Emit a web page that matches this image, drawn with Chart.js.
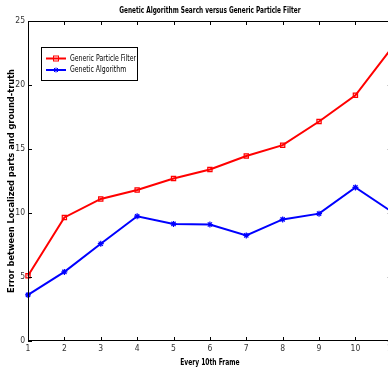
<!DOCTYPE html>
<html>
<head>
<meta charset="utf-8">
<script src="https://cdn.jsdelivr.net/npm/chart.js@4/dist/chart.umd.min.js"></script>
<style>
html,body{margin:0;padding:0;background:#fff;overflow:hidden;width:388px;height:370px;}
#wrap{width:388px;height:370px;overflow:hidden;position:relative;}
canvas{display:block;}
</style>
</head>
<body>
<div id="wrap"><canvas id="c" width="397" height="370"></canvas></div>
<script>
const frames = ['1','2','3','4','5','6','7','8','9','10','11'];
const particleFilter = [5.1, 9.65, 11.1, 11.8, 12.7, 13.4, 14.45, 15.3, 17.15, 19.2, 22.9];
const geneticAlgorithm = [3.6, 5.4, 7.6, 9.75, 9.15, 9.1, 8.25, 9.5, 9.95, 12.0, 10.1];
const yTicks = [0, 5, 10, 15, 20, 25];
const chartTitle = 'Genetic Algorithm Search versus Generic Particle Filter';
const xTitle = 'Every 10th Frame';
const yTitle = 'Error between Localized parts and ground-truth';

const FONT = "'Liberation Sans Narrow', 'Arial Narrow', 'DejaVu Sans Condensed', 'Liberation Sans', Arial, sans-serif";

function narrowText(ctx, text, x, y, font, sx, align) {
  ctx.save();
  ctx.font = font;
  ctx.textAlign = align;
  ctx.textBaseline = 'middle';
  ctx.translate(x, y);
  ctx.scale(sx, 1);
  ctx.fillText(text, 0, 0);
  ctx.restore();
}

const framePlugin = {
  id: 'frame',
  afterDraw(chart) {
    const {ctx, chartArea: a, scales} = chart;
    ctx.save();
    ctx.strokeStyle = '#000';
    ctx.lineWidth = 1;
    ctx.strokeRect(a.left + 0.5, a.top + 0.5, a.right - a.left - 1, a.bottom - a.top - 1);
    ctx.beginPath();
    scales.x.ticks.forEach((t, i) => {
      const x = Math.round(scales.x.getPixelForTick(i)) + 0.5;
      ctx.moveTo(x, a.bottom); ctx.lineTo(x, a.bottom - 4);
      ctx.moveTo(x, a.top); ctx.lineTo(x, a.top + 4);
    });
    scales.y.ticks.forEach((t) => {
      const y = Math.round(scales.y.getPixelForValue(t.value)) + 0.5;
      ctx.moveTo(a.left, y); ctx.lineTo(a.left + 4, y);
      ctx.moveTo(a.right, y); ctx.lineTo(a.right - 4, y);
    });
    ctx.stroke();
    const cx = (a.left + a.right) / 2;
    ctx.fillStyle = '#000';
    // chart title
    narrowText(ctx, chartTitle, cx, 10.5, 'bold 8.5px ' + FONT, 0.76, 'center');
    // x axis title
    narrowText(ctx, xTitle, cx, 362.5, 'bold 9px ' + FONT, 0.74, 'center');
    // legend
    const lx = a.left + 13, ly = a.top + 26, lw = 96, lh = 33;
    ctx.fillStyle = '#fff';
    ctx.fillRect(lx, ly, lw, lh);
    ctx.strokeStyle = '#000';
    ctx.strokeRect(lx + 0.5, ly + 0.5, lw, lh);
    chart.data.datasets.forEach((ds, i) => {
      const yy = ly + 11.5 + i * 11.5;
      ctx.strokeStyle = ds.borderColor;
      ctx.lineWidth = 2;
      ctx.beginPath(); ctx.moveTo(lx + 5, yy); ctx.lineTo(lx + 25, yy); ctx.stroke();
      ctx.lineWidth = 1;
      if (ds.pointStyle === 'rect') {
        ctx.strokeRect(lx + 12.5, yy - 2.5, 5, 5);
      } else {
        ctx.beginPath();
        ctx.moveTo(lx + 13, yy - 2); ctx.lineTo(lx + 17, yy + 2);
        ctx.moveTo(lx + 17, yy - 2); ctx.lineTo(lx + 13, yy + 2);
        ctx.moveTo(lx + 15, yy - 2.5); ctx.lineTo(lx + 15, yy + 2.5);
        ctx.stroke();
      }
      ctx.fillStyle = '#000';
      narrowText(ctx, ds.label, lx + 29, yy, '8px ' + FONT, 0.86, 'left');
    });
    ctx.restore();
  }
};

new Chart(document.getElementById('c'), {
  type: 'line',
  data: {
    labels: frames,
    datasets: [
      {
        label: 'Generic Particle Filter',
        data: particleFilter,
        borderColor: '#ff0000',
        backgroundColor: 'rgba(255,0,0,0)',
        borderWidth: 2,
        pointStyle: 'rect',
        pointRadius: 3,
        pointBorderWidth: 1.2,
        pointBorderColor: '#ff0000',
        pointBackgroundColor: 'rgba(255,0,0,0.15)',
        tension: 0,
        clip: false
      },
      {
        label: 'Genetic Algorithm',
        data: geneticAlgorithm,
        borderColor: '#0000ff',
        backgroundColor: 'rgba(0,0,255,0)',
        borderWidth: 2,
        pointStyle: 'star',
        pointRadius: 3,
        pointBorderWidth: 1.2,
        pointBorderColor: '#0000ff',
        tension: 0,
        clip: false
      }
    ]
  },
  options: {
    responsive: false,
    animation: false,
    devicePixelRatio: 1,
    layout: { padding: { top: 21, right: 3, left: 0, bottom: 0 } },
    plugins: {
      legend: { display: false },
      title: { display: false },
      tooltip: { enabled: false }
    },
    scales: {
      x: {
        type: 'category',
        offset: false,
        grid: { display: false, drawTicks: false },
        border: { display: false },
        ticks: { color: '#333', font: { family: FONT, size: 8.5 }, padding: 3, maxRotation: 0, autoSkip: false },
        title: { display: false },
        afterFit(s) { s.height = 29; s.paddingLeft = 0; s.paddingRight = 0; }
      },
      y: {
        min: 0, max: 25,
        afterBuildTicks(s) { s.ticks = yTicks.map(v => ({ value: v })); },
        grid: { display: false, drawTicks: false },
        border: { display: false },
        ticks: { color: '#333', font: { family: FONT, size: 8.5 }, padding: 3 },
        title: { display: true, text: yTitle, color: '#000', font: { family: FONT, size: 9.2, weight: 'bold' }, padding: { top: 6, bottom: 0 } },
        afterFit(s) { s.width = 28; s.paddingTop = 0; s.paddingBottom = 0; }
      }
    }
  },
  plugins: [framePlugin]
});
</script>
</body>
</html>
